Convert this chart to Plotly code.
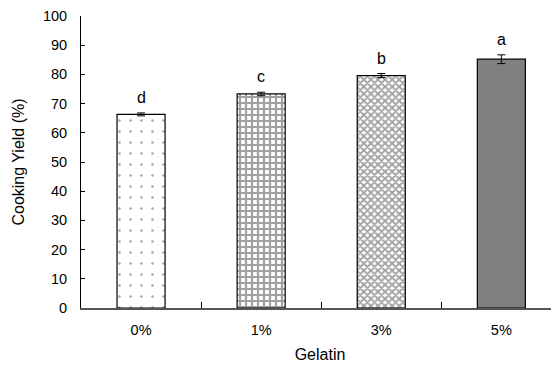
import plotly.graph_objects as go

categories = ["0%", "1%", "3%", "5%"]
values = [66.3, 73.3, 79.6, 85.2]
errors = [0.5, 0.6, 0.7, 1.5]
letters = ["d", "c", "b", "a"]

fig = go.Figure()
fig.add_trace(go.Bar(
    x=categories, y=values,
    error_y=dict(type="data", array=errors, color="black", thickness=1, width=4),
    marker=dict(
        color=["white", "white", "white", "#808080"],
        line=dict(color="black", width=1.2),
        pattern=dict(
            shape=[".", "+", "x", ""],
            size=[11, 6, 5, 8],
            solidity=[0.04, 0.6, 0.6, 0.3],
            fgcolor=["#333333", "black", "#222222", "#808080"],
            bgcolor=["white", "white", "#bdbdbd", "#808080"],
            fillmode="overlay",
        ),
    ),
    width=0.4,
    showlegend=False,
))

for c, v, e, t in zip(categories, values, errors, letters):
    fig.add_annotation(x=c, y=v + e, text=t, showarrow=False, yanchor="bottom",
                       yshift=5, font=dict(size=16, color="black"))

fig.update_layout(
    width=551, height=359,
    margin=dict(l=73, r=0, t=8, b=59),
    plot_bgcolor="white", paper_bgcolor="white",
    font=dict(family="Liberation Sans, Arial, sans-serif", size=14.5, color="black"),
    xaxis=dict(
        type="category", range=[-0.5, 3.48],
        showline=True, linecolor="#555555", linewidth=1.5,
        ticks="inside", ticklen=6, tickcolor="black", tickson="boundaries",
        ticklabelstandoff=8,
        title=dict(text="Gelatin", font=dict(size=16), standoff=12),
        showgrid=False,
    ),
    yaxis=dict(
        range=[0, 100], dtick=10,
        showline=True, linecolor="black", linewidth=1,
        ticks="inside", ticklen=4, tickcolor="black",
        ticklabelstandoff=10,
        title=dict(text="Cooking Yield (%)", font=dict(size=16), standoff=14),
        showgrid=False, zeroline=False,
    ),
)

fig.write_html("out.html")
